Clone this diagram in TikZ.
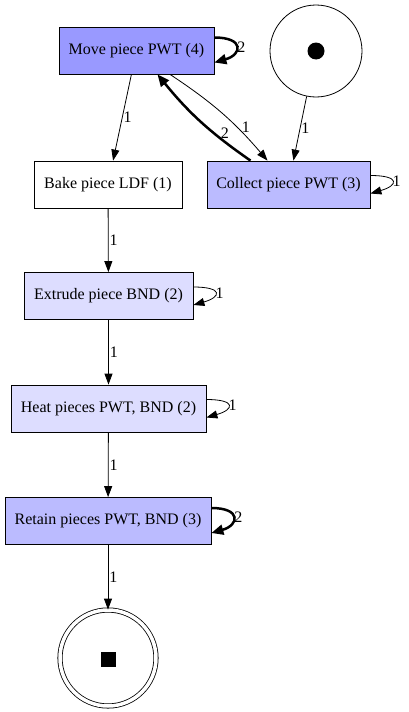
\documentclass[tikz,border=0pt]{standalone}
\usepackage{fontspec}
\setmainfont{Liberation Serif}
\usetikzlibrary{arrows.meta}
\definecolor{trdark}{RGB}{153,153,255}
\definecolor{trmid}{RGB}{187,187,255}
\definecolor{trlight}{RGB}{221,221,255}
\begin{document}
\begin{tikzpicture}[x=1pt,y=-1pt,
  trans/.style={draw,rectangle,minimum height=47pt,inner sep=0pt,line width=0.8pt,font=\fontsize{16}{18}\selectfont},
  place/.style={draw,circle,inner sep=0pt,line width=0.8pt},
  arc/.style={-{Triangle[length=11pt,width=8pt]},line width=0.8pt},
  heavy/.style={-{Triangle[length=12pt,width=10pt]},line width=2.5pt},
  lbl/.style={font=\fontsize{16}{18}\selectfont,inner sep=1pt}]
\useasboundingbox (0,0) rectangle (408,712);
% Places
\node[place,minimum size=92pt] (start) at (316,51) {};
\fill (start) circle (8.5pt);
\node[place,minimum size=96pt,double,double distance=3.5pt] (end) at (108,658) {};
\fill (100.5,651.5) rectangle (115.5,666.5);
% Transitions
\node[trans,fill=trdark,minimum width=155pt] (move) at (136.5,50.5) {Move piece PWT (4)};
\node[trans,fill=white,minimum width=148pt] (bake) at (108,184.5) {Bake piece LDF (1)};
\node[trans,fill=trmid,minimum width=163pt] (collect) at (288.5,184.5) {Collect piece PWT (3)};
\node[trans,fill=trlight,minimum width=169pt] (extrude) at (108.5,296) {Extrude piece BND (2)};
\node[trans,fill=trlight,minimum width=195pt] (heat) at (108.5,408.5) {Heat pieces PWT, BND (2)};
\node[trans,fill=trmid,minimum width=206pt] (retain) at (108,521) {Retain pieces PWT, BND (3)};
% Arcs
\draw[arc] (move) -- node[lbl,anchor=west,pos=0.5] {1} (bake);
\draw[arc] ([xshift=33.5pt]move.south) to[bend left=8] node[lbl,anchor=west,pos=0.66,xshift=4pt] {1} ([xshift=-21pt]collect.north);
\draw[heavy] ([xshift=-38pt]collect.north) to[bend left=8] node[lbl,anchor=west,pos=0.35,xshift=5pt] {2} ([xshift=21pt]move.south);
\draw[arc] (start) -- node[lbl,anchor=west,pos=0.5] {1} (collect);
\draw[arc] (bake) -- node[lbl,anchor=west] {1} (extrude);
\draw[arc] (extrude) -- node[lbl,anchor=west] {1} (heat);
\draw[arc] (heat) -- node[lbl,anchor=west] {1} (retain);
\draw[arc] (retain) -- node[lbl,anchor=west] {1} (end);
% Self loops
\draw[heavy] ([yshift=13pt]move.east) .. controls +(30,0) and +(28,-8) .. node[lbl,anchor=west,inner sep=0pt] {2} ([yshift=-12pt]move.east);
\draw[arc] ([yshift=9pt]collect.east) .. controls +(30,0) and +(28,-8) .. node[lbl,anchor=west,inner sep=0pt] {1} ([yshift=-9pt]collect.east);
\draw[arc] ([yshift=9pt]extrude.east) .. controls +(30,0) and +(28,-8) .. node[lbl,anchor=west,inner sep=0pt] {1} ([yshift=-9pt]extrude.east);
\draw[arc] ([yshift=9pt]heat.east) .. controls +(30,0) and +(28,-8) .. node[lbl,anchor=west,inner sep=0pt] {1} ([yshift=-9pt]heat.east);
\draw[heavy] ([yshift=13pt]retain.east) .. controls +(30,0) and +(28,-8) .. node[lbl,anchor=west,inner sep=0pt] {2} ([yshift=-12pt]retain.east);
\end{tikzpicture}
\end{document}
